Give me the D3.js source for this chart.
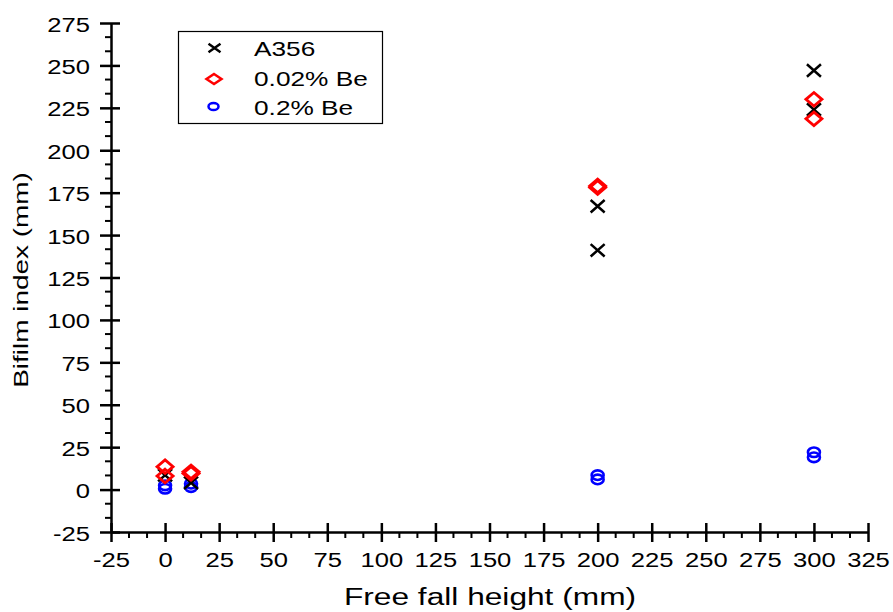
<!DOCTYPE html>
<html><head><meta charset="utf-8">
<script src="https://cdn.jsdelivr.net/npm/d3@7"></script>
<style>body{margin:0;background:#fff}text{font-family:"Liberation Sans",Arial,sans-serif}</style>
</head><body><svg id="c" width="893" height="612"></svg>
<script>
const xTicks = [-25,0,25,50,75,100,125,150,175,200,225,250,275,300,325];
const yTicks = [-25,0,25,50,75,100,125,150,175,200,225,250,275];
const a356X = [0,12,200,200,300,300];
const a356Y = [8.5,4,167,141,247,224];
const be002X = [0,0,12,12,200,200,300,300];
const be002Y = [13.5,8,10.5,9.5,179,178,230,218.5];
const be02X = [0,0,12,12,200,200,300,300];
const be02Y = [2.5,0.5,3.5,1.5,8.5,6,22,19];
const legendLabels = ["A356","0.02% Be","0.2% Be"];

const svg = d3.select("#c");
const x = d3.scaleLinear().domain([-25,325]).range([111,868]);
const y = d3.scaleLinear().domain([-25,275]).range([532,23]);

function stretched(sel,px,py,txt,size,sx,anchor,rot){
  return sel.append("text")
    .attr("transform",`translate(${px},${py})${rot?` rotate(${rot})`:""} scale(${sx},1)`)
    .attr("text-anchor",anchor).attr("font-size",size).attr("fill","#000").text(txt);
}

// minor ticks
const xMinor = d3.range(-25,325,25/3).filter((v,i)=>i%3!==0);
const yMinor = d3.range(-25,275,25/3).filter((v,i)=>i%3!==0);
const g = svg.append("g");
g.selectAll(".xm").data(xMinor).join("line").attr("x1",d=>x(d)).attr("x2",d=>x(d)).attr("y1",532).attr("y2",538).attr("stroke","#000").attr("stroke-width",2);
g.selectAll(".ym").data(yMinor).join("line").attr("y1",d=>y(d)).attr("y2",d=>y(d)).attr("x1",105).attr("x2",111).attr("stroke","#000").attr("stroke-width",2);

const xAxis = svg.append("g").attr("transform","translate(0,532)")
  .call(d3.axisBottom(x).tickValues(xTicks).tickSize(10).tickSizeOuter(0).tickFormat(d=>String(d)));
xAxis.select(".domain").attr("stroke-width",2.5);
xAxis.selectAll(".tick line").attr("y1",-9).attr("y2",10).attr("stroke-width",2.5);
xAxis.selectAll(".tick").each(function(d){
  const t = d3.select(this); t.select("text").remove();
  stretched(t,0,35,String(d),20,1.28,"middle");
});

const yAxis = svg.append("g").attr("transform","translate(111,0)")
  .call(d3.axisLeft(y).tickValues(yTicks).tickSize(11).tickSizeOuter(0).tickFormat(d=>String(d)));
yAxis.select(".domain").attr("stroke-width",2.5);
yAxis.selectAll(".tick line").attr("x1",-11).attr("x2",9).attr("stroke-width",2.5);
yAxis.selectAll(".tick").each(function(d){
  const t = d3.select(this); t.select("text").remove();
  stretched(t,-21,8,String(d),20,1.28,"end");
});

stretched(svg,490,605,"Free fall height (mm)",24,1.32,"middle");
stretched(svg,28,280,"Bifilm index (mm)",21,1.33,"middle",-90);

function cross(sel,cx,cy,sx,sy){
  sel.append("path").attr("d",`M${cx-sx},${cy-sy}L${cx+sx},${cy+sy}M${cx-sx},${cy+sy}L${cx+sx},${cy-sy}`).attr("stroke","#000").attr("stroke-width",2.5).attr("fill","none");
}
function diamond(sel,cx,cy,sx,sy,w){
  sel.append("path").attr("d",`M${cx},${cy-sy}L${cx+sx},${cy}L${cx},${cy+sy}L${cx-sx},${cy}Z`).attr("stroke","#ff0000").attr("stroke-width",w).attr("fill","none");
}
function circ(sel,cx,cy,rx,ry,w){
  sel.append("ellipse").attr("cx",cx).attr("cy",cy).attr("rx",rx).attr("ry",ry).attr("stroke","#0000ff").attr("stroke-width",w).attr("fill","none");
}
const pts = svg.append("g");
be02X.forEach((v,i)=>circ(pts,x(v),y(be02Y[i]),6,4.8,2.6));
a356X.forEach((v,i)=>cross(pts,x(v),y(a356Y[i]),7,6.2));
be002X.forEach((v,i)=>diamond(pts,x(v),y(be002Y[i]),8,6.8,2.8));

// legend
const lg = svg.append("g");
lg.append("rect").attr("x",178.5).attr("y",31.5).attr("width",204).attr("height",92).attr("fill","#fff").attr("stroke","#000").attr("stroke-width",1.2);
cross(lg,214.5,48,6,4.2);
diamond(lg,214,79,7.5,5,2.5);
circ(lg,213.5,106.5,5,3.6,2.5);
legendLabels.forEach((t,i)=>stretched(lg,254,[48,78,107][i],t,21,1.25,"start").attr("dy","0.36em"));
</script></body></html>
